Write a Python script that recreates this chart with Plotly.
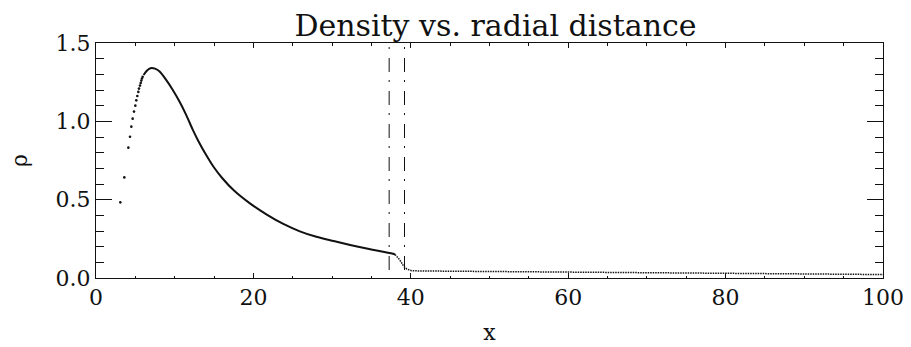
import plotly.graph_objects as go

# ---- data ----
inner_x = [3.09, 3.60, 4.11, 4.32, 4.49, 4.66, 4.83, 5.00, 5.12, 5.25, 5.38, 5.46, 5.59, 5.68, 5.76, 5.84, 5.93]
inner_rho = [0.483, 0.642, 0.832, 0.902, 0.966, 1.017, 1.062, 1.100, 1.134, 1.162, 1.188, 1.209, 1.228, 1.245, 1.260, 1.273, 1.285]

main_x = [6.05, 6.4, 6.8, 7.07, 7.5, 8.05, 8.89, 9.74, 10.59, 11.44, 12.29, 13.0, 14.0, 15.0, 16.0, 17.5,
          19.6, 21.7, 23.8, 25.9, 28.0, 30.2, 32.3, 34.4, 36.0, 37.1, 37.6, 38.0]
main_rho = [1.296, 1.320, 1.336, 1.341, 1.336, 1.319, 1.266, 1.202, 1.128, 1.043, 0.947, 0.875, 0.785, 0.705, 0.640, 0.560,
            0.475, 0.405, 0.345, 0.298, 0.263, 0.236, 0.211, 0.188, 0.172, 0.161, 0.156, 0.150]

outer_x = [38.0, 38.3, 38.5, 38.8, 39.1, 39.5, 40.1, 41.0, 45.0, 60.0, 80.0, 100.0]
outer_rho = [0.150, 0.135, 0.121, 0.100, 0.074, 0.057, 0.047, 0.045, 0.043, 0.037, 0.030, 0.022]

boundaries = [37.25, 39.2]

x_ticks = [0, 20, 40, 60, 80, 100]
y_ticks = [0.0, 0.5, 1.0, 1.5]
y_ticklabels = ["0.0", "0.5", "1.0", "1.5"]

FONT = "DejaVu Serif"
INK = "#111111"

fig = go.Figure()
fig.add_trace(go.Scatter(x=inner_x, y=inner_rho, mode="markers",
                         marker=dict(size=2.6, color=INK), showlegend=False))
fig.add_trace(go.Scatter(x=main_x, y=main_rho, mode="lines",
                         line=dict(color=INK, width=2, shape="spline", smoothing=0.8), showlegend=False))
fig.add_trace(go.Scatter(x=outer_x, y=outer_rho, mode="lines",
                         line=dict(color=INK, width=1.5, dash="1.5px,1px"), showlegend=False))

for b in boundaries:
    fig.add_shape(type="line", xref="x", yref="paper", x0=b, x1=b, y0=1, y1=0,
                  line=dict(color=INK, width=1, dash="0px,4px,2px,9px,14px,4px"))

fig.update_layout(
    width=911, height=347,
    margin=dict(l=96, r=28, t=43, b=69, autoexpand=False),
    paper_bgcolor="white", plot_bgcolor="white",
    font=dict(family=FONT, color=INK, size=22),
    title=dict(text="Density vs. radial distance", x=495.5 / 911, xref="container",
               xanchor="center", y=1 - 25 / 347, yref="container", yanchor="middle",
               font=dict(family=FONT, size=30, color=INK)),
)

fig.update_xaxes(
    range=[0, 100], tickvals=x_ticks, ticktext=[str(v) for v in x_ticks],
    ticks="inside", ticklen=5, tickwidth=1, tickcolor=INK,
    mirror="ticks", showline=True, linecolor=INK, linewidth=1,
    showgrid=False, zeroline=False, automargin=False,
    minor=dict(dtick=5, ticks="inside", ticklen=2.5, tickcolor=INK, showgrid=False),
    tickfont=dict(family=FONT, size=22, color=INK),
    title=dict(text="x", font=dict(family=FONT, size=22, color=INK), standoff=15),
)
fig.update_yaxes(
    range=[0, 1.5], tickvals=y_ticks, ticktext=y_ticklabels,
    ticks="inside", ticklen=16, tickwidth=1, tickcolor=INK,
    mirror="ticks", showline=True, linecolor=INK, linewidth=1,
    showgrid=False, zeroline=False, automargin=False,
    minor=dict(dtick=0.1, ticks="inside", ticklen=8, tickcolor=INK, showgrid=False),
    tickfont=dict(family=FONT, size=22, color=INK),
    title=dict(text="ρ", font=dict(family=FONT, size=22, color=INK), standoff=21),
)

fig.write_html("out.html", config={"displayModeBar": False},
               post_script="document.body.style.margin='0';document.body.style.overflow='hidden';")
